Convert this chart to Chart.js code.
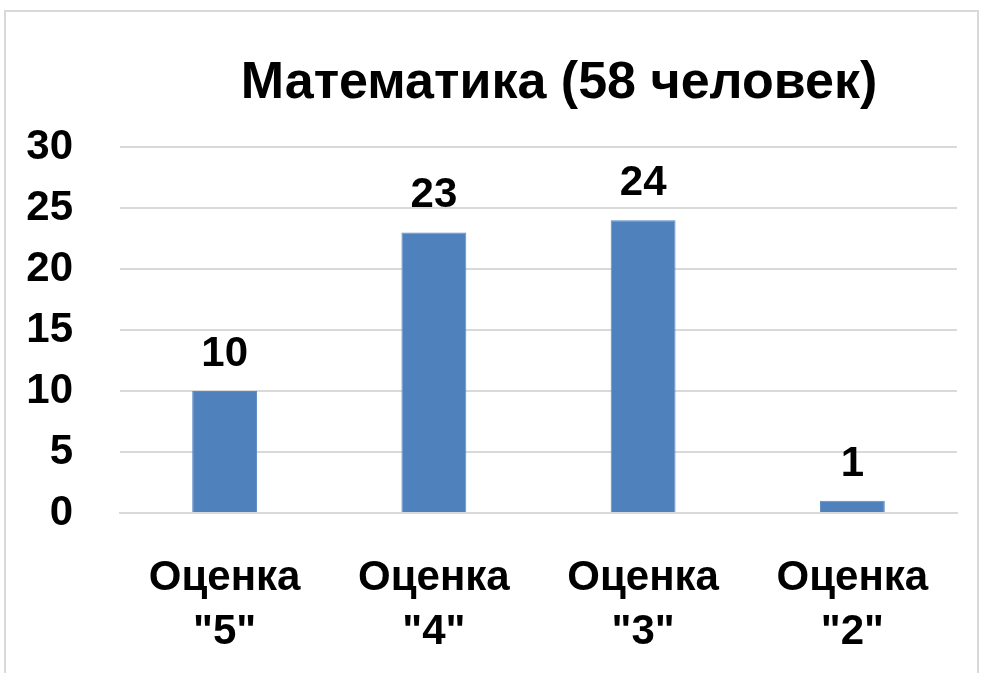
<!DOCTYPE html>
<html>
<head>
<meta charset="utf-8">
<script src="https://cdn.jsdelivr.net/npm/chart.js@4.4.1/dist/chart.umd.min.js"></script>
<style>
  html, body { margin: 0; padding: 0; background: #ffffff; overflow: hidden; }
  #frame { position: absolute; left: 4px; top: 10px; width: 975px; height: 700px; border: 2px solid #d9d9d9; box-sizing: border-box; }
  #wrap { position: absolute; left: 0; top: 0; width: 982px; height: 673px; }
</style>
</head>
<body>
<div id="frame"></div>
<div id="wrap"><canvas id="c" width="982" height="673"></canvas></div>
<script>
const titleText = 'Математика (58 человек)';
const categories = [['Оценка', '"5"'], ['Оценка', '"4"'], ['Оценка', '"3"'], ['Оценка', '"2"']];
const values = [10, 23, 24, 1];
const yTicks = [0, 5, 10, 15, 20, 25, 30];

const FONT = "'Liberation Sans', Arial, sans-serif";

const titlePlugin = {
  id: 'fixedTitle',
  afterDraw(chart) {
    const ctx = chart.ctx;
    ctx.save();
    ctx.font = 'bold 52px ' + FONT;
    ctx.fillStyle = '#000000';
    ctx.textAlign = 'center';
    ctx.textBaseline = 'alphabetic';
    ctx.fillText(titleText, 559, 98);
    ctx.restore();
  }
};

const valueLabels = {
  id: 'valueLabels',
  afterDatasetsDraw(chart) {
    const ctx = chart.ctx;
    const meta = chart.getDatasetMeta(0);
    ctx.save();
    ctx.font = 'bold 42px ' + FONT;
    ctx.fillStyle = '#000000';
    ctx.textAlign = 'center';
    ctx.textBaseline = 'alphabetic';
    meta.data.forEach((bar, i) => {
      ctx.fillText(String(values[i]), bar.x, bar.y - 25);
    });
    ctx.restore();
  }
};

new Chart(document.getElementById('c'), {
  type: 'bar',
  data: {
    labels: categories,
    datasets: [{
      data: values,
      backgroundColor: '#4f81bd',
      borderColor: '#5a8ac4',
      borderWidth: 1,
      categoryPercentage: 1.0,
      barPercentage: 0.31
    }]
  },
  options: {
    responsive: false,
    animation: false,
    devicePixelRatio: 1,
    layout: { padding: { top: 147, right: 25, left: 0, bottom: 0 } },
    plugins: {
      legend: { display: false },
      title: { display: false },
      tooltip: { enabled: false }
    },
    scales: {
      x: {
        grid: { display: false, drawTicks: false },
        border: { display: true, color: '#d9d9d9', width: 2 },
        ticks: {
          color: '#000000',
          font: { family: FONT, size: 42, weight: 'bold', lineHeight: 54 / 42 },
          padding: 38,
          maxRotation: 0,
          autoSkip: false
        },
        afterFit(scale) { scale.height = 160; }
      },
      y: {
        min: 0,
        max: 30,
        afterBuildTicks(scale) { scale.ticks = yTicks.map(v => ({ value: v })); },
        grid: { color: '#d9d9d9', lineWidth: 2, drawTicks: false },
        border: { display: false },
        ticks: {
          color: '#000000',
          font: { family: FONT, size: 42, weight: 'bold' },
          padding: 47
        },
        afterFit(scale) { scale.width = 120; }
      }
    }
  },
  plugins: [valueLabels, titlePlugin]
});
</script>
</body>
</html>
